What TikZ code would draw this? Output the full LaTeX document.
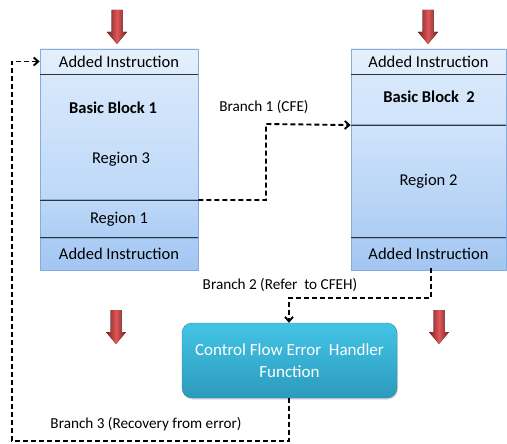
\documentclass[tikz,border=0pt]{standalone}
\usepackage{fontspec}
\setmainfont{Carlito}
\usetikzlibrary{positioning, arrows.meta, shadows}

\definecolor{blockedge}{HTML}{86ACDB}
\definecolor{blocka}{HTML}{E6F0FC}
\definecolor{blockb}{HTML}{D8E8FB}
\definecolor{blockc}{HTML}{BDD8F8}
\definecolor{blockd}{HTML}{ADCDF5}
\definecolor{blocke}{HTML}{A2C6F2}
\definecolor{handlertop}{HTML}{43C4E6}
\definecolor{handlerbot}{HTML}{2C9BBD}
\definecolor{flowred}{HTML}{D83A3A}

\begin{document}
\begin{tikzpicture}[x=1pt,y=-1pt,
		sect/.style={draw=blockedge,line width=0.7pt,inner sep=0pt,font=\fontsize{16.5}{18}\selectfont},
		divider/.style={draw=black!80,line width=0.7pt},
		branch/.style={line width=1.9pt,dash pattern=on 5pt off 3pt,-{Straight Barb[length=4.5pt,width=8pt]}},
		blabel/.style={font=\fontsize{15.2}{17}\selectfont,inner sep=1pt},
		handler/.style={rounded corners=10pt,inner sep=0pt,top color=handlertop,bottom color=handlerbot,
			draw=handlerbot!90!black,line width=0.4pt,drop shadow={shadow xshift=1pt,shadow yshift=-1.5pt,opacity=0.3},
			text=white,align=center,font=\fontsize{17}{22}\selectfont},
		pics/downarrow/.style={code={
			\fill[left color=flowred!55!black,right color=flowred!55!black,middle color=flowred!85!white]
				(-5.5,0) -- (5.5,0) -- (5.5,22) -- (10,22) -- (0,34) -- (-10,22) -- (-5.5,22) -- cycle;
		}}]
	\useasboundingbox (0,0) rectangle (507,444);

	% basic block 1
	\node[sect,top color=blocka,bottom color=blockb!60!blocka,minimum width=158,minimum height=25] (b1top) at (119,61.5) {Added Instruction};
	\node[sect,top color=blockb,bottom color=blockc,minimum width=158,minimum height=125,anchor=north] (b1mid) at (b1top.south) {};
	\node[sect,top color=blockc,bottom color=blockd,minimum width=158,minimum height=37,anchor=north] (b1reg) at (b1mid.south) {Region 1};
	\node[sect,top color=blockd,bottom color=blocke,minimum width=158,minimum height=32,anchor=north] (b1bot) at (b1reg.south) {Added Instruction};
	\node[font=\fontsize{16.5}{18}\selectfont\bfseries] (bb1) at (113,108) {Basic Block 1};
	\node[font=\fontsize{16.5}{18}\selectfont] (reg3) at (121,159) {Region 3};
	\draw[divider] (b1top.south west) -- (b1top.south east);
	\draw[divider] (b1reg.north west) -- (b1reg.north east);
	\draw[divider] (b1bot.north west) -- (b1bot.north east);

	% basic block 2
	\node[sect,top color=blocka,bottom color=blockb!60!blocka,minimum width=155,minimum height=25] (b2top) at (428.5,61.5) {Added Instruction};
	\node[sect,top color=blockb,bottom color=blockb!70!blockc,minimum width=155,minimum height=50,anchor=north] (b2bb) at (b2top.south) {};
	\node[sect,top color=blockb!70!blockc,bottom color=blockd,minimum width=155,minimum height=112,anchor=north] (b2reg) at (b2bb.south) {Region 2};
	\node[sect,top color=blockd,bottom color=blocke,minimum width=155,minimum height=32,anchor=north] (b2bot) at (b2reg.south) {Added Instruction};
	\node[font=\fontsize{16.5}{18}\selectfont\bfseries] (bb2) at (429,97) {Basic Block~~2};
	\draw[divider] (b2top.south west) -- (b2top.south east);
	\draw[divider] (b2reg.north west) -- (b2reg.north east);
	\draw[divider] (b2bot.north west) -- (b2bot.north east);

	% error handler
	\node[handler,minimum width=215,minimum height=75] (cfeh) at (289.5,360.5) {Control Flow Error~ Handler\\Function};

	% entry arrows
	\pic at (117,10) {downarrow};
	\pic at (428,10) {downarrow};
	\pic at (116,310) {downarrow};
	\pic at (439,310) {downarrow};

	% branches
	\coordinate (b1out) at (b1reg.north east);
	\coordinate (b2in) at (b2reg.north west);
	\draw[branch] (b1out) -| (266,124) -- (b2in);
	\node[blabel] (br1) at (264,107) {Branch 1 (CFE)};

	\coordinate (b2out) at (431,268);
	\draw[branch] (b2out) |- (289,298) -- (cfeh.north -| 289,0);
	\node[blabel] (br2) at (280,285) {Branch 2 (Refer~ to CFEH)};

	\coordinate (hout) at (289,398);
	\draw[branch] (hout) |- (12,441) |- (b1top.west);
	\node[blabel] (br3) at (146,424) {Branch 3 (Recovery from error)};
\end{tikzpicture}
\end{document}
